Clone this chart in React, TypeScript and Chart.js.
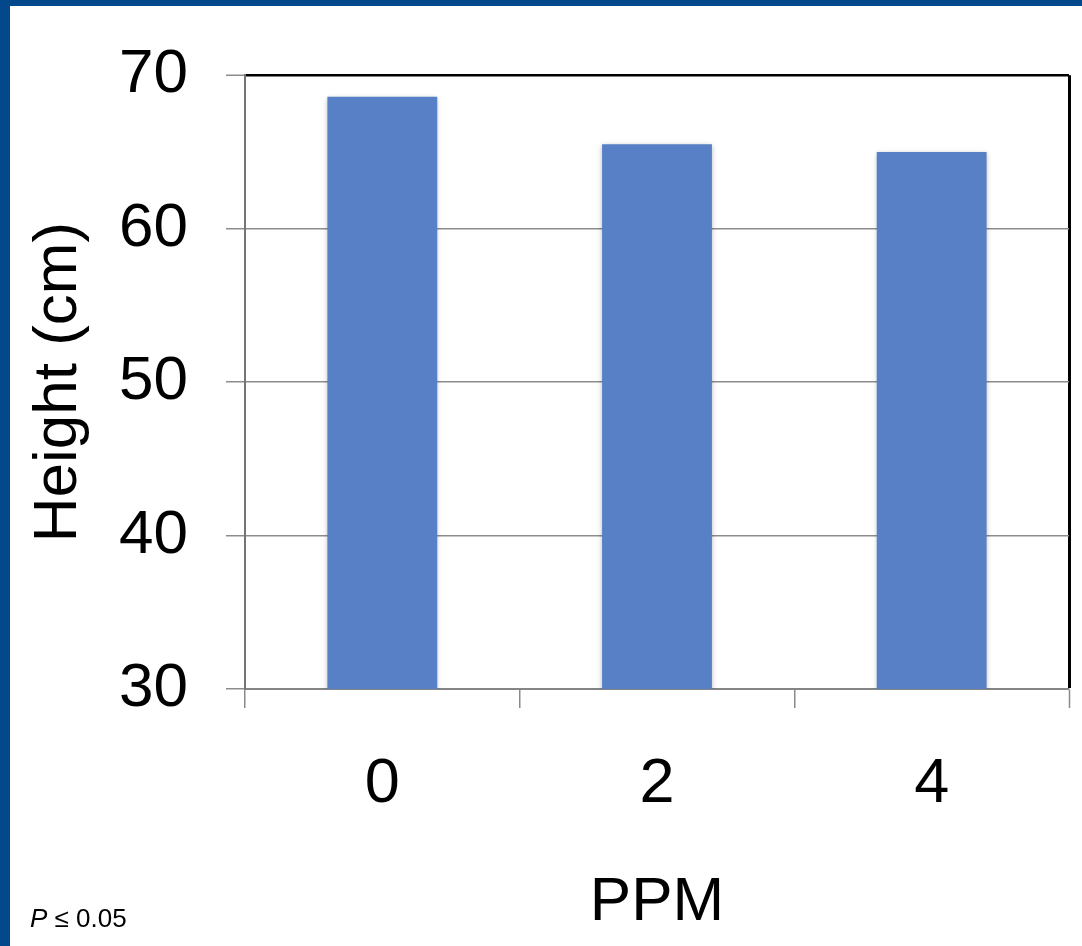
import React, { useEffect, useRef } from "react";
import { Chart, registerables } from "chart.js";

Chart.register(...registerables);

const categories = ["0", "2", "4"];
const heights = [68.6, 65.5, 65.0];
const yMin = 30;
const yMax = 70;
const yStep = 10;
const xTitle = "PPM";
const yTitle = "Height (cm)";
const note = ["P", " \u2264 0.05"];

const FONT = "'Liberation Sans', Arial, Helvetica, sans-serif";
const W = 1082;
const H = 946;

const framePlugin = {
  id: "frame",
  beforeDraw(chart: any) {
    const ctx = chart.ctx;
    ctx.save();
    ctx.fillStyle = "#ffffff";
    ctx.fillRect(0, 0, W, H);
    ctx.fillStyle = "#03488a";
    ctx.fillRect(0, 0, W, 6);
    ctx.fillRect(0, 0, 10, H);
    ctx.restore();
  },
  beforeDatasetsDraw(chart: any) {
    const ctx = chart.ctx;
    ctx.save();
    ctx.shadowColor = "rgba(0,0,0,0.28)";
    ctx.shadowBlur = 5;
    ctx.shadowOffsetX = 0;
    ctx.shadowOffsetY = 1;
  },
  afterDatasetsDraw(chart: any) {
    chart.ctx.restore();
  },
  afterDraw(chart: any) {
    const ctx = chart.ctx;
    ctx.save();
    ctx.fillStyle = "#000";
    ctx.textBaseline = "alphabetic";
    ctx.textAlign = "left";
    ctx.font = `italic 26px ${FONT}`;
    ctx.fillText(note[0], 30, 927);
    const w = ctx.measureText(note[0]).width;
    ctx.font = `26px ${FONT}`;
    ctx.fillText(note[1], 30 + w, 927);
    ctx.restore();
  },
};

const isLastX = (c: any) => c.index === undefined || c.index >= categories.length;

export default function App() {
  const ref = useRef<HTMLCanvasElement | null>(null);

  useEffect(() => {
    if (!ref.current) return;
    const chart = new Chart(ref.current, {
      type: "bar",
      data: {
        labels: categories,
        datasets: [
          {
            data: heights,
            backgroundColor: "#5780c6",
            borderWidth: 0,
            barPercentage: 0.4,
            categoryPercentage: 1,
          },
        ],
      },
      options: {
        responsive: false,
        animation: false,
        devicePixelRatio: 1,
        layout: { padding: { left: 0, top: 72, right: 13, bottom: 0 } },
        plugins: {
          legend: { display: false },
          tooltip: { enabled: false },
        },
        scales: {
          x: {
            grid: {
              offset: true,
              drawOnChartArea: true,
              color: (c: any) => (isLastX(c) ? "#000000" : "rgba(0,0,0,0)"),
              lineWidth: (c: any) => (isLastX(c) ? 3 : 1.5),
              tickColor: "#8a8a8a",
              tickWidth: 1.5,
              tickLength: 19,
            },
            border: { color: "#858585", width: 2 },
            ticks: {
              color: "#000",
              font: { family: FONT, size: 63 },
              padding: 39,
            },
            title: {
              display: true,
              text: xTitle,
              color: "#000",
              font: { family: FONT, size: 62 },
              padding: { top: 0, bottom: 6 },
            },
            afterFit: (s: any) => {
              s.height = H - 689;
            },
          },
          y: {
            min: yMin,
            max: yMax,
            grid: {
              color: (c: any) => (c.tick && c.tick.value === yMax ? "#000000" : "#8c8c8c"),
              lineWidth: (c: any) => (c.tick && c.tick.value === yMax ? 2.5 : 1.5),
              tickColor: "#8c8c8c",
              tickWidth: 1.5,
              tickLength: 19,
            },
            border: { color: "#747474", width: 2 },
            ticks: {
              stepSize: yStep,
              color: "#000",
              font: { family: FONT, size: 62 },
              padding: 38,
            },
            title: {
              display: true,
              text: yTitle,
              color: "#000",
              font: { family: FONT, size: 62 },
              padding: { top: 22, bottom: 0 },
            },
            afterFit: (s: any) => {
              s.width = 245;
            },
          },
        },
      },
      plugins: [framePlugin],
    });
    return () => chart.destroy();
  }, []);

  return (
    <div style={{ position: "absolute", left: 0, top: 0, width: W, height: H, background: "#fff" }}>
      <canvas ref={ref} width={W} height={H} style={{ display: "block", width: W, height: H }} />
    </div>
  );
}
